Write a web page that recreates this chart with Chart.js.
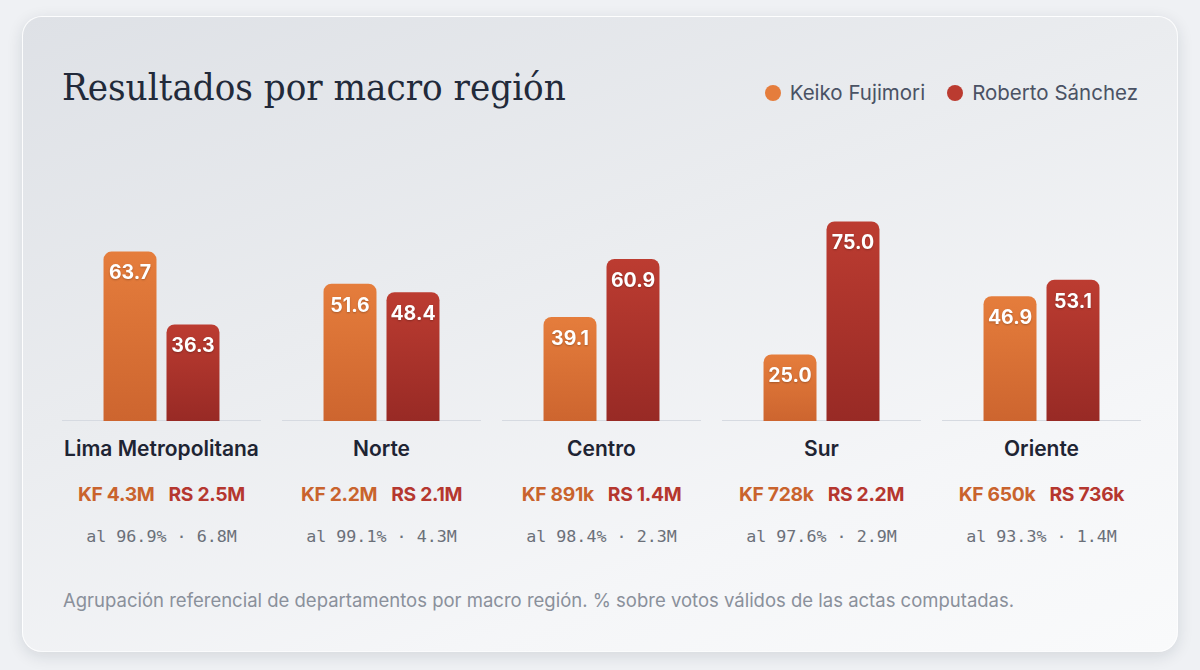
<!DOCTYPE html>
<html lang="es">
<head>
  <meta charset="UTF-8" />
  <title>Resultados por macro región</title>
  <script src="https://cdn.jsdelivr.net/npm/chart.js"></script>
  <style>
    body { margin: 0; width: 1200px; height: 670px; overflow: hidden; background: #eff1f4; font-family: Inter, "Noto Sans", sans-serif; }
    .card {
      position: absolute; left: 22px; top: 16px; width: 1156px; height: 636px; box-sizing: border-box;
      border-radius: 20px; border: 1px solid rgba(255,255,255,0.85);
      background: linear-gradient(160deg, #dee1e6 0%, #eaecef 40%, #f5f6f8 75%, #f9fafb 100%);
      box-shadow: 0 4px 16px rgba(20, 30, 50, 0.12);
    }
    h1 {
      position: absolute; left: 39px; top: 49px; margin: 0; line-height: 42px;
      font-family: "DejaVu Serif", serif; font-stretch: condensed; font-weight: 400; font-size: 38.1px; color: #222a3a;
    }
    .legend { position: absolute; right: 39px; top: 63px; display: flex; gap: 22px; font-size: 20.5px; line-height: 26px; color: #4a5264; }
    .legend span { display: flex; align-items: center; }
    .legend i { width: 16px; height: 16px; border-radius: 50%; margin-right: 9px; display: inline-block; }
    .panel { position: absolute; top: 0; width: 199px; height: 560px; }
    .plot { position: absolute; left: 0; top: 128px; width: 199px; height: 276px; }
    .name { position: absolute; top: 418px; left: -10px; right: -10px; text-align: center; font-size: 21px; font-weight: 600; line-height: 28px; color: #1e2433; }
    .votes { position: absolute; top: 464px; left: -10px; right: -10px; text-align: center; font-size: 19.3px; font-weight: 700; line-height: 26px; letter-spacing: -0.3px; }
    .votes .kf { color: #c9632d; margin-right: 14px; }
    .votes .rs { color: #b5372f; }
    .actas { position: absolute; top: 507px; width: 100%; text-align: center; font-family: "DejaVu Sans Mono", monospace; font-size: 16.7px; line-height: 24px; color: #6b7079; }
    .note { position: absolute; left: 40px; top: 571px; font-size: 18.5px; line-height: 24px; color: #8a909b; }
  </style>
</head>
<body>
  <div class="card" id="card">
    <h1>Resultados por macro región</h1>
    <div class="legend">
      <span><i style="background:#e57d3c"></i>Keiko Fujimori</span>
      <span><i style="background:#bb3b30"></i>Roberto Sánchez</span>
    </div>
    <div class="note">Agrupación referencial de departamentos por macro región. % sobre votos válidos de las actas computadas.</div>
  </div>

  <script>
    const regions = ['Lima Metropolitana', 'Norte', 'Centro', 'Sur', 'Oriente'];
    const kfPct = [63.7, 51.6, 39.1, 25.0, 46.9];
    const rsPct = [36.3, 48.4, 60.9, 75.0, 53.1];
    const kfVotes = ['4.3M', '2.2M', '891k', '728k', '650k'];
    const rsVotes = ['2.5M', '2.1M', '1.4M', '2.2M', '736k'];
    const actasPct = ['96.9%', '99.1%', '98.4%', '97.6%', '93.3%'];
    const totalVotes = ['6.8M', '4.3M', '2.3M', '2.9M', '1.4M'];

    const card = document.getElementById('card');

    function barGradient(top, bottom) {
      return ctx => {
        const chart = ctx.chart;
        const area = chart.chartArea;
        if (!area || ctx.raw === undefined) return bottom;
        const yTop = chart.scales.y.getPixelForValue(ctx.raw);
        const g = chart.ctx.createLinearGradient(0, yTop, 0, area.bottom);
        g.addColorStop(0, top);
        g.addColorStop(1, bottom);
        return g;
      };
    }

    const valueLabels = {
      id: 'valueLabels',
      afterDatasetsDraw(chart) {
        const ctx = chart.ctx;
        ctx.save();
        ctx.font = '700 19.5px Inter, sans-serif';
        ctx.fillStyle = '#ffffff';
        ctx.textAlign = 'center';
        ctx.textBaseline = 'middle';
        ctx.shadowColor = 'rgba(0,0,0,0.25)';
        ctx.shadowBlur = 2;
        ctx.shadowOffsetY = 1;
        chart.data.datasets.forEach((ds, i) => {
          chart.getDatasetMeta(i).data.forEach((bar, j) => {
            ctx.fillText(ds.data[j].toFixed(1), bar.x, bar.y + 22);
          });
        });
        ctx.restore();
      }
    };

    regions.forEach((region, i) => {
      const panel = document.createElement('div');
      panel.className = 'panel';
      panel.style.left = (39 + i * 220) + 'px';
      panel.innerHTML = `
        <div class="plot"><canvas></canvas></div>
        <div class="name">${region}</div>
        <div class="votes"><span class="kf">KF ${kfVotes[i]}</span><span class="rs">RS ${rsVotes[i]}</span></div>
        <div class="actas">al ${actasPct[i]} · ${totalVotes[i]}</div>`;
      card.appendChild(panel);

      new Chart(panel.querySelector('canvas'), {
        type: 'bar',
        data: {
          labels: [region],
          datasets: [
            { label: 'Keiko Fujimori', data: [kfPct[i]], backgroundColor: barGradient('#e57d3c', '#cd652f') },
            { label: 'Roberto Sánchez', data: [rsPct[i]], backgroundColor: barGradient('#bc3c31', '#982a25') }
          ]
        },
        options: {
          responsive: true,
          maintainAspectRatio: false,
          animation: false,
          layout: { padding: { top: 10, bottom: 0, left: 0, right: 0 } },
          datasets: {
            bar: {
              categoryPercentage: 0.633,
              barPercentage: 0.841,
              borderRadius: { topLeft: 8, topRight: 8 },
              borderSkipped: 'bottom'
            }
          },
          plugins: { legend: { display: false }, tooltip: { enabled: false } },
          scales: {
            x: {
              display: true,
              grid: { display: false, drawTicks: false },
              ticks: { display: false },
              border: { display: true, color: '#d6dae1', width: 2 }
            },
            y: { display: false, min: 0, max: 100 }
          }
        },
        plugins: [valueLabels]
      });
    });
  </script>
</body>
</html>
